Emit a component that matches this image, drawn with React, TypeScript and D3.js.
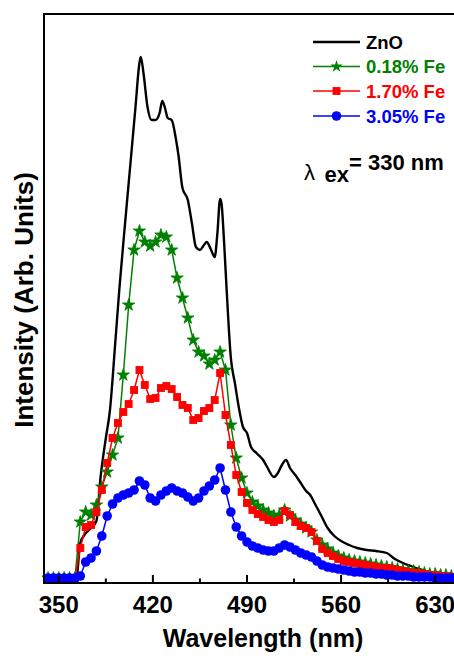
import { useRef, useEffect } from 'react'
import * as d3 from 'd3'

// ZnO reference curve (nm, intensity)
const znoWave = [340, 363, 366, 369, 374, 378, 381, 385, 388, 392, 395, 399, 403, 407, 410, 411, 413, 416, 419, 422, 425, 427, 429, 431, 434, 437, 439, 442, 446, 449, 452, 455, 458, 460, 463, 466, 468, 470, 471, 473, 475, 478, 481, 484, 487, 490, 493, 497, 502, 505, 510, 513, 516, 519, 522, 527, 530, 534, 537, 541, 545, 550, 555, 560, 566, 572, 579, 586, 594, 600, 606, 612, 618, 625, 632, 640, 646]
const znoVals = [5, 5, 40, 48, 55, 62, 105, 145, 172, 240, 293, 355, 415, 475, 520, 526, 510, 476, 463, 463, 470, 482, 475, 465, 463, 445, 428, 395, 383, 360, 336, 333, 338, 341, 334, 326, 350, 384, 380, 340, 290, 225, 200, 175, 156, 150, 136, 130, 123, 116, 106, 110, 118, 123, 115, 106, 100, 92, 88, 78, 68, 55, 47, 42, 38, 35, 33, 32, 30, 24, 20, 17, 14, 11, 9, 8, 7]

// doped samples share one wavelength grid
const wave = [342, 346, 350, 354, 358, 362, 366, 370, 374, 378, 382, 386, 390, 394, 398, 402, 406, 410, 414, 418, 422, 426, 430, 434, 438, 442, 446, 450, 454, 458, 462, 466, 470, 474, 478, 482, 486, 490, 494, 498, 502, 506, 510, 514, 518, 522, 526, 530, 534, 538, 542, 546, 550, 554, 558, 562, 566, 570, 574, 578, 582, 586, 590, 594, 598, 602, 606, 610, 614, 618, 622, 626, 630, 634, 638, 642, 646]
const fe018 = [5, 5, 5, 5, 5, 5, 61, 71, 68, 78, 96, 111, 128, 145, 208, 278, 333, 352, 341, 337, 341, 348, 346, 333, 305, 285, 265, 243, 231, 227, 219, 223, 231, 213, 158, 125, 105, 90, 81, 77, 73, 70, 67, 68, 73, 67, 63, 59, 55, 51, 43, 38, 34, 30, 27, 25, 23, 22, 21, 20, 19, 18, 17, 16, 15, 14, 13, 12, 12, 11, 10, 9, 9, 8, 8, 7, 7]
const fe170 = [5, 5, 5, 5, 5, 5, 35, 56, 58, 71, 93, 120, 145, 160, 171, 179, 193, 213, 198, 184, 185, 195, 197, 194, 186, 178, 175, 163, 165, 172, 175, 183, 210, 168, 138, 108, 91, 80, 73, 69, 66, 63, 61, 63, 72, 68, 61, 57, 55, 51, 42, 34, 30, 27, 24, 22, 21, 20, 19, 18, 17, 16, 15, 15, 14, 13, 12, 11, 10, 10, 9, 8, 8, 7, 7, 6, 6]
const fe305 = [5, 5, 5, 5, 5, 5, 7, 21, 25, 32, 47, 67, 79, 85, 88, 90, 93, 102, 98, 85, 82, 88, 92, 95, 92, 90, 86, 82, 85, 92, 97, 103, 115, 93, 71, 56, 47, 41, 37, 35, 33, 32, 32, 35, 38, 36, 33, 30, 28, 26, 22, 18, 16, 15, 14, 13, 12, 11, 11, 10, 10, 9, 9, 8, 8, 7, 7, 7, 6, 6, 6, 6, 5, 5, 5, 5, 5]

const legendLabels = ['ZnO', '0.18% Fe', '1.70% Fe', '3.05% Fe']
const colors = ['#000000', '#008000', '#ff0000', '#0000ff']
const xTicks = [350, 420, 490, 560, 630]
const xMinor = [385, 455, 525, 595]

const FONT = "'Liberation Sans', Arial, sans-serif"

function App() {
  const ref = useRef<SVGSVGElement>(null)
  useEffect(() => {
    const svg = d3.select(ref.current)
    svg.selectAll('*').remove()

    const x = d3.scaleLinear().domain([339, 644]).range([44, 454])
    const y = d3.scaleLinear().domain([0, 569]).range([583, 14])

    const line = d3.line<[number, number]>()
      .x(d => x(d[0]))
      .y(d => y(d[1]))

    // ZnO
    svg.append('path')
      .datum(znoWave.map((w, i) => [w, znoVals[i]] as [number, number]))
      .attr('d', line.curve(d3.curveMonotoneX))
      .attr('fill', 'none')
      .attr('stroke', colors[0])
      .attr('stroke-width', 2.4)
      .attr('stroke-linejoin', 'round')

    const symbols = [d3.symbolStar, d3.symbolSquare, d3.symbolCircle]
    const sizes = [48, 62, 72]
    const series = [fe018, fe170, fe305]
    series.forEach((vals, k) => {
      const pts = wave.map((w, i) => [w, vals[i]] as [number, number])
      const g = svg.append('g')
      g.append('path')
        .datum(pts)
        .attr('d', d3.line<[number, number]>().x(d => x(d[0])).y(d => y(d[1])))
        .attr('fill', 'none')
        .attr('stroke', colors[k + 1])
        .attr('stroke-width', 1.5)
      g.selectAll('path.m')
        .data(pts)
        .enter()
        .append('path')
        .attr('class', 'm')
        .attr('transform', d => `translate(${x(d[0])},${y(d[1])})`)
        .attr('d', d3.symbol().type(symbols[k]).size(sizes[k])())
        .attr('fill', colors[k + 1])
        .attr('stroke', colors[k + 1])
        .attr('stroke-width', k === 0 ? 0.8 : 0)
    })

    // frame and axis
    svg.append('path')
      .attr('d', `M${x(339)},${y(0)}V${y(569)}H456`)
      .attr('fill', 'none')
      .attr('stroke', '#000')
      .attr('stroke-width', 2)
    svg.append('line')
      .attr('x1', x(339) - 1).attr('x2', 456)
      .attr('y1', y(0)).attr('y2', y(0))
      .attr('stroke', '#000').attr('stroke-width', 2.2)

    svg.selectAll('line.major')
      .data(xTicks)
      .enter().append('line')
      .attr('x1', d => x(d)).attr('x2', d => x(d))
      .attr('y1', y(0)).attr('y2', y(0) - 8)
      .attr('stroke', '#000').attr('stroke-width', 2)
    svg.selectAll('line.minor')
      .data(xMinor)
      .enter().append('line')
      .attr('x1', d => x(d)).attr('x2', d => x(d))
      .attr('y1', y(0)).attr('y2', y(0) - 4.5)
      .attr('stroke', '#000').attr('stroke-width', 2)

    svg.selectAll('text.tick')
      .data(xTicks)
      .enter().append('text')
      .attr('x', d => x(d))
      .attr('y', 613)
      .attr('text-anchor', 'middle')
      .style('font', `bold 24px ${FONT}`)
      .text(d => d)

    svg.append('text')
      .attr('x', 263).attr('y', 647)
      .attr('text-anchor', 'middle')
      .style('font', `bold 25px ${FONT}`)
      .text('Wavelength (nm)')

    svg.append('text')
      .attr('transform', 'translate(33,300)rotate(-90)')
      .attr('text-anchor', 'middle')
      .style('font', `bold 26px ${FONT}`)
      .text('Intensity (Arb. Units)')

    // legend
    const rowY = [42, 66.5, 91, 116]
    legendLabels.forEach((lab, i) => {
      svg.append('line')
        .attr('x1', 313).attr('x2', 360)
        .attr('y1', rowY[i]).attr('y2', rowY[i])
        .attr('stroke', colors[i]).attr('stroke-width', i === 0 ? 2.4 : 1.5)
      if (i > 0) {
        svg.append('path')
          .attr('transform', `translate(336.5,${rowY[i]})`)
          .attr('d', d3.symbol().type(symbols[i - 1]).size(sizes[i - 1])())
          .attr('fill', colors[i])
      }
      svg.append('text')
        .attr('x', 366).attr('y', rowY[i] + 6.5)
        .attr('fill', colors[i])
        .style('font', `bold 18.5px ${FONT}`)
        .text(lab)
    })

    // excitation note
    svg.append('text')
      .attr('x', 304).attr('y', 180)
      .style('font', `22px ${FONT}`)
      .text('λ')
    svg.append('text')
      .attr('x', 349).attr('y', 182)
      .attr('text-anchor', 'end')
      .style('font', `bold 22px ${FONT}`)
      .text('ex')
    svg.append('text')
      .attr('x', 349).attr('y', 170)
      .style('font', `bold 22px ${FONT}`)
      .text('= 330 nm')
  }, [])

  return (
    <div>
      <svg ref={ref} width={454} height={656}
        style={{ position: 'absolute', left: 0, top: 0, background: '#fff' }} />
    </div>
  )
}

export default App
